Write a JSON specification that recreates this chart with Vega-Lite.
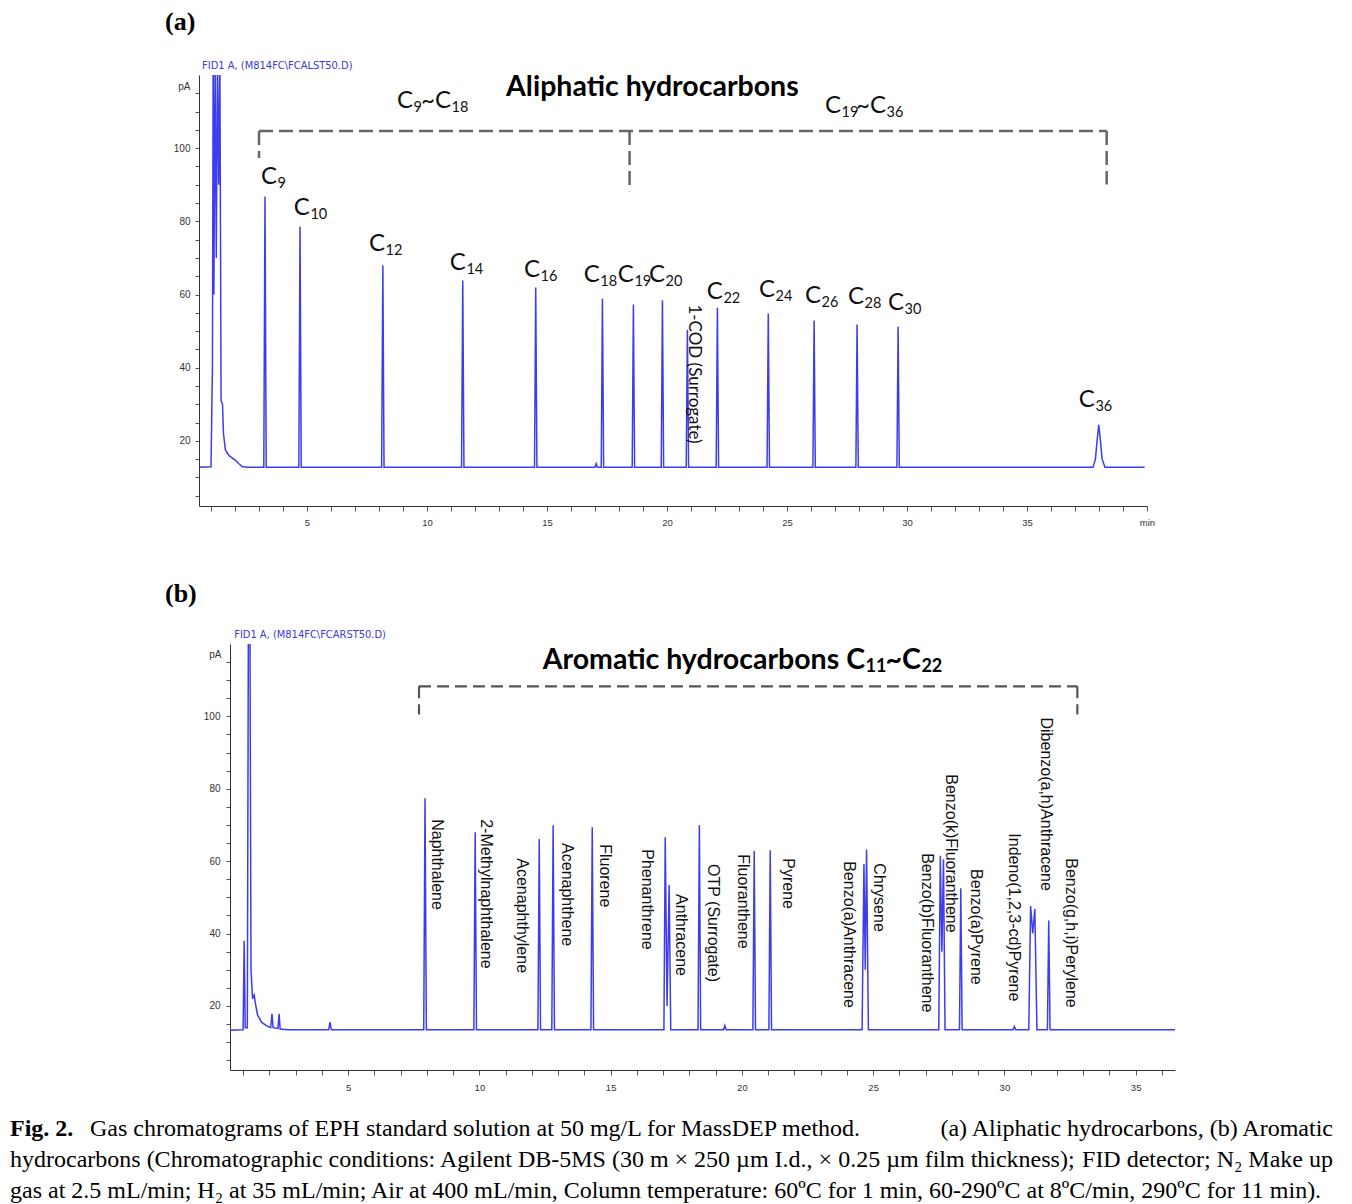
{
  "$schema": "https://vega.github.io/schema/vega-lite/v6.json",
  "padding": {"left": 10, "top": 8, "right": 5, "bottom": 5},
  "background": "white",
  "config": {"view": {"stroke": null}, "axis": {"grid": false}},
  "datasets": {
    "chromA": [
      {"t": 0.5, "v": 12.8}, {"t": 1.0, "v": 12.9}, {"t": 1.06, "v": 40}, {"t": 1.09, "v": 125}, {"t": 1.12, "v": 60},
      {"t": 1.17, "v": 125}, {"t": 1.22, "v": 70}, {"t": 1.27, "v": 125}, {"t": 1.32, "v": 90}, {"t": 1.37, "v": 125},
      {"t": 1.42, "v": 31}, {"t": 1.48, "v": 30}, {"t": 1.52, "v": 22}, {"t": 1.6, "v": 17.5}, {"t": 1.75, "v": 16},
      {"t": 1.9, "v": 15.2}, {"t": 2.0, "v": 14.8}, {"t": 2.15, "v": 13.8}, {"t": 2.3, "v": 13.0}, {"t": 2.5, "v": 12.8},
      {"t": 3.2, "v": 12.8}, {"t": 3.25, "v": 86.8}, {"t": 3.3, "v": 12.8},
      {"t": 4.66, "v": 12.8}, {"t": 4.71, "v": 78.6}, {"t": 4.76, "v": 12.8},
      {"t": 8.11, "v": 12.8}, {"t": 8.16, "v": 68}, {"t": 8.21, "v": 12.8},
      {"t": 11.44, "v": 12.8}, {"t": 11.49, "v": 63.8}, {"t": 11.54, "v": 12.8},
      {"t": 14.48, "v": 12.8}, {"t": 14.53, "v": 61.9}, {"t": 14.58, "v": 12.8},
      {"t": 17.0, "v": 12.8}, {"t": 17.05, "v": 13.8}, {"t": 17.1, "v": 12.8},
      {"t": 17.26, "v": 12.8}, {"t": 17.31, "v": 58.9}, {"t": 17.36, "v": 12.8},
      {"t": 18.55, "v": 12.8}, {"t": 18.6, "v": 57.3}, {"t": 18.65, "v": 12.8},
      {"t": 19.76, "v": 12.8}, {"t": 19.81, "v": 58.4}, {"t": 19.86, "v": 12.8},
      {"t": 20.8, "v": 12.8}, {"t": 20.85, "v": 50.4}, {"t": 20.9, "v": 12.8},
      {"t": 22.05, "v": 12.8}, {"t": 22.1, "v": 56.4}, {"t": 22.15, "v": 12.8},
      {"t": 24.17, "v": 12.8}, {"t": 24.22, "v": 54.8}, {"t": 24.27, "v": 12.8},
      {"t": 26.08, "v": 12.8}, {"t": 26.13, "v": 52.9}, {"t": 26.18, "v": 12.8},
      {"t": 27.87, "v": 12.8}, {"t": 27.92, "v": 51.8}, {"t": 27.97, "v": 12.8},
      {"t": 29.58, "v": 12.8}, {"t": 29.63, "v": 51.2}, {"t": 29.68, "v": 12.8},
      {"t": 37.75, "v": 12.8}, {"t": 37.85, "v": 15}, {"t": 37.92, "v": 20}, {"t": 37.99, "v": 24.4},
      {"t": 38.06, "v": 20}, {"t": 38.13, "v": 15}, {"t": 38.25, "v": 12.8}, {"t": 39.9, "v": 12.8}
    ],
    "chromB": [
      {"t": 0.5, "v": 13.3}, {"t": 1.0, "v": 13.4}, {"t": 1.04, "v": 38}, {"t": 1.08, "v": 14}, {"t": 1.16, "v": 14},
      {"t": 1.2, "v": 125}, {"t": 1.26, "v": 125}, {"t": 1.3, "v": 30}, {"t": 1.36, "v": 22}, {"t": 1.42, "v": 23},
      {"t": 1.46, "v": 21}, {"t": 1.55, "v": 17.5}, {"t": 1.7, "v": 15.5}, {"t": 1.9, "v": 14.5}, {"t": 2.05, "v": 14},
      {"t": 2.1, "v": 17.8}, {"t": 2.14, "v": 14}, {"t": 2.33, "v": 13.8}, {"t": 2.37, "v": 17.8}, {"t": 2.41, "v": 13.6},
      {"t": 2.7, "v": 13.4}, {"t": 4.26, "v": 13.4}, {"t": 4.31, "v": 15.5}, {"t": 4.36, "v": 13.4},
      {"t": 7.88, "v": 13.4}, {"t": 7.93, "v": 77.4}, {"t": 7.98, "v": 13.4},
      {"t": 9.79, "v": 13.4}, {"t": 9.84, "v": 68}, {"t": 9.89, "v": 13.4},
      {"t": 12.23, "v": 13.4}, {"t": 12.28, "v": 66.1}, {"t": 12.33, "v": 13.4},
      {"t": 12.76, "v": 13.4}, {"t": 12.81, "v": 69.9}, {"t": 12.86, "v": 13.4},
      {"t": 14.25, "v": 13.4}, {"t": 14.3, "v": 69.4}, {"t": 14.35, "v": 13.4},
      {"t": 17.03, "v": 13.4}, {"t": 17.08, "v": 66.6}, {"t": 17.15, "v": 20}, {"t": 17.23, "v": 53.4}, {"t": 17.29, "v": 13.4},
      {"t": 18.33, "v": 13.4}, {"t": 18.38, "v": 69.9}, {"t": 18.43, "v": 13.4},
      {"t": 19.3, "v": 13.4}, {"t": 19.35, "v": 14.6}, {"t": 19.4, "v": 13.4},
      {"t": 20.42, "v": 13.4}, {"t": 20.47, "v": 62.8}, {"t": 20.52, "v": 13.4},
      {"t": 21.03, "v": 13.4}, {"t": 21.08, "v": 63.0}, {"t": 21.13, "v": 13.4},
      {"t": 24.58, "v": 13.4}, {"t": 24.65, "v": 59.2}, {"t": 24.7, "v": 30}, {"t": 24.75, "v": 63.2}, {"t": 24.82, "v": 13.4},
      {"t": 27.5, "v": 13.4}, {"t": 27.56, "v": 61.5}, {"t": 27.62, "v": 35}, {"t": 27.68, "v": 60.5}, {"t": 27.74, "v": 13.4},
      {"t": 28.29, "v": 13.4}, {"t": 28.34, "v": 52.5}, {"t": 28.39, "v": 13.4},
      {"t": 30.33, "v": 13.4}, {"t": 30.38, "v": 14.3}, {"t": 30.43, "v": 13.4},
      {"t": 30.93, "v": 13.4}, {"t": 31.0, "v": 47.6}, {"t": 31.08, "v": 40}, {"t": 31.16, "v": 46.8}, {"t": 31.24, "v": 13.4},
      {"t": 31.64, "v": 13.4}, {"t": 31.69, "v": 43.6}, {"t": 31.74, "v": 13.4}, {"t": 36.5, "v": 13.4}
    ],
    "labA": [
      {"t": 3.75, "v": 92.1, "main": "C", "sub": "9"},
      {"t": 5.12, "v": 83.6, "main": "C", "sub": "10"},
      {"t": 8.25, "v": 73.7, "main": "C", "sub": "12"},
      {"t": 11.62, "v": 68.5, "main": "C", "sub": "14"},
      {"t": 14.71, "v": 66.8, "main": "C", "sub": "16"},
      {"t": 17.2, "v": 65.3, "main": "C", "sub": "18"},
      {"t": 18.62, "v": 65.3, "main": "C", "sub": "19"},
      {"t": 19.92, "v": 65.3, "main": "C", "sub": "20"},
      {"t": 22.33, "v": 60.7, "main": "C", "sub": "22"},
      {"t": 24.5, "v": 61.2, "main": "C", "sub": "24"},
      {"t": 26.42, "v": 59.6, "main": "C", "sub": "26"},
      {"t": 28.21, "v": 59.3, "main": "C", "sub": "28"},
      {"t": 29.875, "v": 57.7, "main": "C", "sub": "30"},
      {"t": 37.83, "v": 31.1, "main": "C", "sub": "36"},
      {"t": 9.42, "v": 113.0, "main": "C", "sub": "9"},
      {"t": 11.0, "v": 113.0, "main": "~C", "sub": "18"},
      {"t": 27.25, "v": 111.6, "main": "C", "sub": "19"},
      {"t": 29.125, "v": 111.6, "main": "~C", "sub": "36"}
    ],
    "titleB": [
      {"t": 24.69, "v": 115.6, "main": "Aromatic hydrocarbons C", "sub": "11"},
      {"t": 26.82, "v": 115.6, "main": "~C", "sub": "22"}
    ]
  },
  "spacing": 21,
  "vconcat": [
    {
      "spacing": 53,
      "vconcat": [
        {
          "spacing": 0,
          "hconcat": [
            {"width": 155, "height": 1, "data": {"values": []}, "mark": "point"},
            {
              "width": 948,
              "height": 431,
              "title": {"text": "(a)", "anchor": "start", "frame": "group", "dx": -34, "offset": 25, "font": "Liberation Serif", "fontSize": 26, "fontWeight": "bold", "color": "#000"},
              "encoding": {
                "x": {"field": "t", "type": "quantitative", "scale": {"domain": [0.5, 40], "nice": false, "zero": false},
                  "axis": {"title": null, "values": [1,2,3,4,5,6,7,8,9,10,11,12,13,14,15,16,17,18,19,20,21,22,23,24,25,26,27,28,29,30,31,32,33,34,35,36,37,38,39,40],
                    "labelExpr": "datum.value == 40 ? 'min' : (datum.value % 5 == 0 ? datum.label : '')",
                    "labelFont": "Liberation Sans", "labelFontSize": 9.5, "labelColor": "#333", "labelPadding": 6, "labelOverlap": false, "labelFlush": false,
                    "tickSize": 5, "tickColor": "#555", "domainColor": "#333"}},
                "y": {"field": "v", "type": "quantitative", "scale": {"domain": [2.2, 120], "nice": false, "zero": false},
                  "axis": {"title": "pA", "titleAngle": 0, "titleX": -9, "titleY": 11, "titleAlign": "right", "titleBaseline": "middle",
                    "titleFont": "Liberation Sans", "titleFontSize": 10, "titleFontWeight": "normal", "titleColor": "#333",
                    "values": [5,10,15,20,25,30,35,40,45,50,55,60,65,70,75,80,85,90,95,100,105,110,115],
                    "labelExpr": "datum.value % 20 == 0 ? datum.label : ''",
                    "labelFont": "Liberation Sans", "labelFontSize": 10, "labelColor": "#333", "labelPadding": 5, "labelOverlap": false,
                    "tickSize": 4, "tickColor": "#555", "domainColor": "#333"}}
              },
              "layer": [
                {
                  "data": {"name": "chromA"},
                  "mark": {"type": "line", "clip": true, "color": "#3c3cf0", "strokeWidth": 1.5}
                },
                {
                  "data": {"values": [
                    {"t": 3.0, "t2": 38.32, "v": 104.7, "v2": 104.7},
                    {"t": 3.0, "t2": 3.0, "v": 104.7, "v2": 97.3},
                    {"t": 18.44, "t2": 18.44, "v": 104.7, "v2": 88.2},
                    {"t": 38.32, "t2": 38.32, "v": 104.7, "v2": 90.1}
                  ]},
                  "mark": {"type": "rule", "color": "#666", "strokeWidth": 2.5, "strokeDash": [14, 6]},
                  "encoding": {"x2": {"field": "t2"}, "y2": {"field": "v2"}}
                },
                {
                  "data": {"name": "labA"},
                  "mark": {"type": "text", "font": "Lato", "fontSize": 24, "color": "#111", "align": "right", "baseline": "middle"},
                  "encoding": {"text": {"field": "main"}}
                },
                {
                  "data": {"name": "labA"},
                  "mark": {"type": "text", "font": "Lato", "fontSize": 14.5, "color": "#111", "align": "left", "baseline": "middle", "dx": 0.5, "dy": 7},
                  "encoding": {"text": {"field": "sub"}}
                },
                {
                  "data": {"values": [{"t": 19.39, "v": 116.7, "label": "Aliphatic hydrocarbons"}]},
                  "mark": {"type": "text", "font": "Lato", "fontSize": 28.5, "fontWeight": "bold", "color": "#000", "align": "center", "baseline": "middle"},
                  "encoding": {"text": {"field": "label"}}
                },
                {
                  "data": {"values": [{"t": 21.14, "v": 57.3, "label": "1-COD (Surrogate)"}]},
                  "mark": {"type": "text", "font": "Lato", "fontSize": 17, "color": "#111", "angle": 90, "align": "left", "baseline": "middle"},
                  "encoding": {"text": {"field": "label"}}
                },
                {
                  "data": {"values": [{"t": 0.63, "v": 122.5, "label": "FID1 A, (M814FC\\FCALST50.D)"}]},
                  "mark": {"type": "text", "font": "DejaVu Sans Condensed, Liberation Sans, sans-serif", "fontSize": 11, "color": "#3a3ad8", "align": "left", "baseline": "middle"},
                  "encoding": {"text": {"field": "label"}}
                }
              ]
            }
          ]
        },
        {
          "spacing": 0,
          "hconcat": [
            {"width": 155, "height": 1, "data": {"values": []}, "mark": "point"},
            {
              "width": 945,
              "height": 426,
              "title": {"text": "(b)", "anchor": "start", "frame": "group", "dx": -65, "offset": 22, "font": "Liberation Serif", "fontSize": 26, "fontWeight": "bold", "color": "#000"},
              "encoding": {
                "x": {"field": "t", "type": "quantitative", "scale": {"domain": [0.5, 36.5], "nice": false, "zero": false},
                  "axis": {"title": null, "values": [1,2,3,4,5,6,7,8,9,10,11,12,13,14,15,16,17,18,19,20,21,22,23,24,25,26,27,28,29,30,31,32,33,34,35,36],
                    "labelExpr": "datum.value % 5 == 0 ? datum.label : ''",
                    "labelFont": "Liberation Sans", "labelFontSize": 9.5, "labelColor": "#333", "labelPadding": 7, "labelOverlap": false, "labelFlush": false,
                    "tickSize": 5, "tickColor": "#555", "domainColor": "#333"}},
                "y": {"field": "v", "type": "quantitative", "scale": {"domain": [2.3, 120], "nice": false, "zero": false},
                  "axis": {"title": "pA", "titleAngle": 0, "titleX": -9, "titleY": 10, "titleAlign": "right", "titleBaseline": "middle",
                    "titleFont": "Liberation Sans", "titleFontSize": 10, "titleFontWeight": "normal", "titleColor": "#333",
                    "values": [5,10,15,20,25,30,35,40,45,50,55,60,65,70,75,80,85,90,95,100,105,110,115],
                    "labelExpr": "datum.value % 20 == 0 ? datum.label : ''",
                    "labelFont": "Liberation Sans", "labelFontSize": 10, "labelColor": "#333", "labelPadding": 6, "labelOverlap": false,
                    "tickSize": 4, "tickColor": "#555", "domainColor": "#333"}}
              },
              "layer": [
                {
                  "data": {"name": "chromB"},
                  "mark": {"type": "line", "clip": true, "color": "#3c3cf0", "strokeWidth": 1.5}
                },
                {
                  "data": {"values": [
                    {"t": 7.7, "t2": 32.78, "v": 108.3, "v2": 108.3},
                    {"t": 7.7, "t2": 7.7, "v": 108.3, "v2": 100.5},
                    {"t": 32.78, "t2": 32.78, "v": 108.3, "v2": 100.5}
                  ]},
                  "mark": {"type": "rule", "color": "#555", "strokeWidth": 2.2, "strokeDash": [12, 6]},
                  "encoding": {"x2": {"field": "t2"}, "y2": {"field": "v2"}}
                },
                {
                  "data": {"values": [
                    {"t": 8.39, "v": 71.6, "label": "Naphthalene"},
                    {"t": 10.26, "v": 71.6, "label": "2-Methylnaphthalene"},
                    {"t": 11.63, "v": 60.8, "label": "Acenaphthylene"},
                    {"t": 13.35, "v": 65.0, "label": "Acenaphthene"},
                    {"t": 14.79, "v": 64.7, "label": "Fluorene"},
                    {"t": 16.39, "v": 63.3, "label": "Phenanthrene"},
                    {"t": 17.69, "v": 50.9, "label": "Anthracene"},
                    {"t": 18.91, "v": 59.2, "label": "OTP (Surrogate)"},
                    {"t": 20.05, "v": 61.9, "label": "Fluoranthene"},
                    {"t": 21.77, "v": 60.8, "label": "Pyrene"},
                    {"t": 24.09, "v": 60.0, "label": "Benzo(a)Anthracene"},
                    {"t": 25.24, "v": 59.4, "label": "Chrysene"},
                    {"t": 27.07, "v": 62.2, "label": "Benzo(b)Fluoranthene"},
                    {"t": 27.98, "v": 84.0, "label": "Benzo(k)Fluoranthene"},
                    {"t": 28.93, "v": 57.8, "label": "Benzo(a)Pyrene"},
                    {"t": 30.38, "v": 67.7, "label": "Indeno(1,2,3-cd)Pyrene"},
                    {"t": 31.6, "v": 99.7, "label": "Dibenzo(a,h)Anthracene"},
                    {"t": 32.52, "v": 60.8, "label": "Benzo(g,h,i)Perylene"}
                  ]},
                  "mark": {"type": "text", "font": "Liberation Sans", "fontSize": 16, "color": "#111", "angle": 90, "align": "left", "baseline": "middle"},
                  "encoding": {"text": {"field": "label"}}
                },
                {
                  "data": {"name": "titleB"},
                  "mark": {"type": "text", "font": "Lato", "fontSize": 28.5, "fontWeight": "bold", "color": "#000", "align": "right", "baseline": "middle"},
                  "encoding": {"text": {"field": "main"}}
                },
                {
                  "data": {"name": "titleB"},
                  "mark": {"type": "text", "font": "Lato", "fontSize": 18, "fontWeight": "bold", "color": "#000", "align": "left", "baseline": "middle", "dx": 0.5, "dy": 7},
                  "encoding": {"text": {"field": "sub"}}
                },
                {
                  "data": {"values": [{"t": 0.66, "v": 122.6, "label": "FID1 A, (M814FC\\FCARST50.D)"}]},
                  "mark": {"type": "text", "font": "DejaVu Sans Condensed, Liberation Sans, sans-serif", "fontSize": 11, "color": "#3a3ad8", "align": "left", "baseline": "middle"},
                  "encoding": {"text": {"field": "label"}}
                }
              ]
            }
          ]
        }
      ]
    },
    {
      "width": 1323,
      "height": 93,
      "encoding": {
        "y": {"field": "line", "type": "ordinal", "axis": null, "scale": {"domain": [1, 2, 3]}},
        "text": {"field": "text"}
      },
      "layer": [
        {
          "data": {"values": [{"line": 1, "text": "Fig. 2."}]},
          "mark": {"type": "text", "align": "left", "baseline": "middle", "font": "Liberation Serif", "fontSize": 24, "fontWeight": "bold", "color": "#000"},
          "encoding": {"x": {"value": 0}}
        },
        {
          "data": {"values": [{"line": 1, "text": "Gas chromatograms of EPH standard solution at 50 mg/L for MassDEP method."}]},
          "mark": {"type": "text", "align": "left", "baseline": "middle", "font": "Liberation Serif", "fontSize": 24, "color": "#000", "dx": 80},
          "encoding": {"x": {"value": 0}}
        },
        {
          "data": {"values": [
            {"line": 1, "text": "(a) Aliphatic hydrocarbons, (b) Aromatic"},
            {"line": 2, "text": "FID detector; N₂ Make up"}
          ]},
          "mark": {"type": "text", "align": "right", "baseline": "middle", "font": "Liberation Serif", "fontSize": 24, "color": "#000"},
          "encoding": {"x": {"value": 1323}}
        },
        {
          "data": {"values": [
            {"line": 2, "text": "hydrocarbons (Chromatographic conditions: Agilent DB-5MS (30 m × 250 µm I.d., × 0.25 µm film thickness);"},
            {"line": 3, "text": "gas at 2.5 mL/min; H₂ at 35 mL/min; Air at 400 mL/min, Column temperature: 60ºC for 1 min, 60-290ºC at 8ºC/min, 290ºC for 11 min)."}
          ]},
          "mark": {"type": "text", "align": "left", "baseline": "middle", "font": "Liberation Serif", "fontSize": 24, "color": "#000"},
          "encoding": {"x": {"value": 0}}
        }
      ]
    }
  ]
}
